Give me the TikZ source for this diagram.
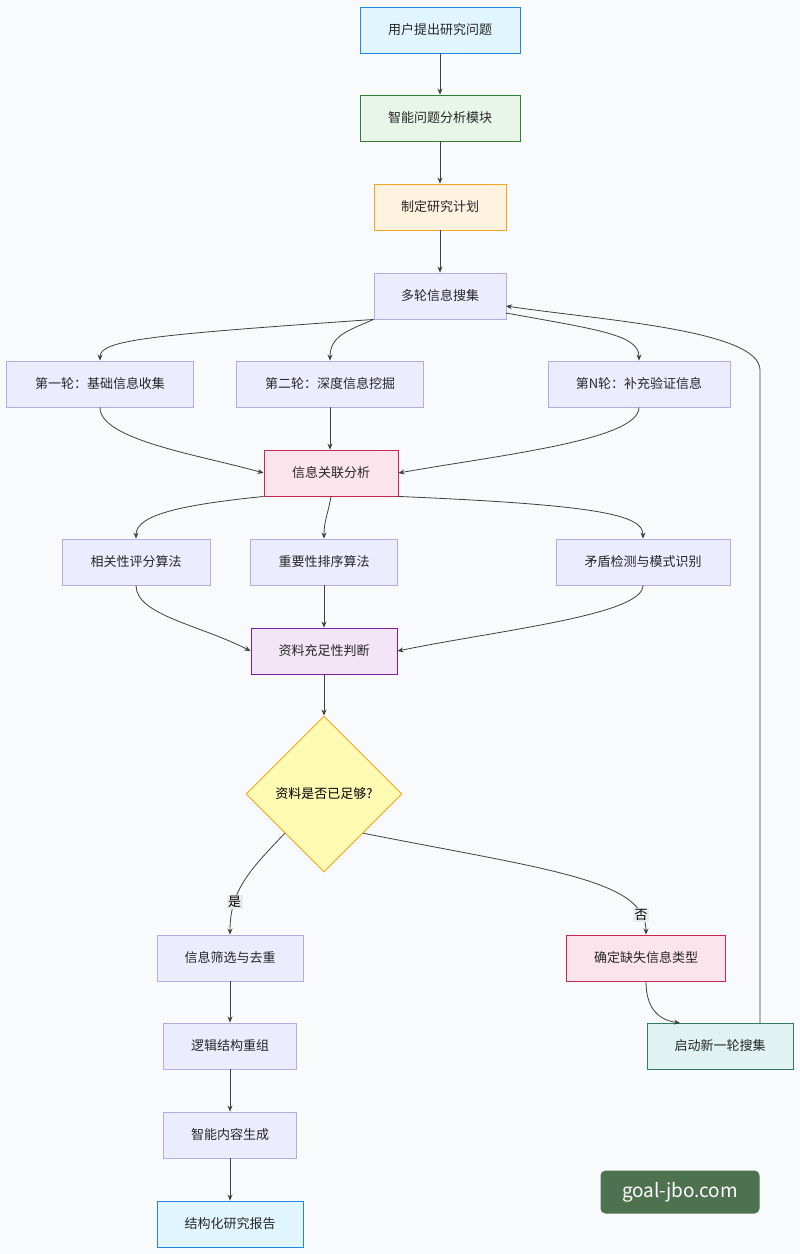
\documentclass[tikz,border=0pt]{standalone}
\usepackage{fontspec}
\setmainfont{Noto Sans CJK SC}
\usetikzlibrary{shapes.geometric,arrows.meta}
\definecolor{bg}{HTML}{F8FAFC}
\definecolor{lav}{HTML}{ECECFF}
\definecolor{lavb}{HTML}{B4ACE0}
\tikzset{
 x=1pt,y=-1pt,
 box/.style={draw=lavb,fill=lav,line width=0.9pt,minimum height=46pt,inner xsep=4pt,font=\fontsize{13}{15}\selectfont,text=black!85},
 blue/.style={box,draw=HTML1E88E5,fill=HTMLE1F5FE},
 green/.style={box,draw=HTML2E7D32,fill=HTMLE8F5E9},
 orange/.style={box,draw=HTMLF59E0B,fill=HTMLFFF3E0},
 red/.style={box,draw=HTMLC2185B,fill=HTMLFCE4EC},
 purp/.style={box,draw=HTML7B1FA2,fill=HTMLF3E5F5},
 teal/.style={box,draw=HTML00695C,fill=HTMLE0F2F1},
 e/.style={draw=black!75,line width=0.8pt,-{Stealth[length=6pt,width=5pt]}},
 lbl/.style={fill=black!8,font=\fontsize{13}{15}\selectfont,inner sep=1.5pt}
}
\definecolor{HTML1E88E5}{HTML}{1E88E5}\definecolor{HTMLE1F5FE}{HTML}{E1F5FE}
\definecolor{HTML2E7D32}{HTML}{2E7D32}\definecolor{HTMLE8F5E9}{HTML}{E8F5E9}
\definecolor{HTMLF59E0B}{HTML}{F5A623}\definecolor{HTMLFFF3E0}{HTML}{FFF3E0}
\definecolor{HTMLC2185B}{HTML}{C62850}\definecolor{HTMLFCE4EC}{HTML}{FCE4EC}
\definecolor{HTML7B1FA2}{HTML}{7B1FA2}\definecolor{HTMLF3E5F5}{HTML}{F3E5F5}
\definecolor{HTML00695C}{HTML}{2E7D5C}\definecolor{HTMLE0F2F1}{HTML}{E0F2F1}
\begin{document}
\begin{tikzpicture}
\fill[bg] (0,0) rectangle (800,1254);
\useasboundingbox (0,0) rectangle (800,1254);
\node[blue,minimum width=160pt] (n1) at (440,30) {用户提出研究问题};
\node[green,minimum width=160pt] (n2) at (440,118) {智能问题分析模块};
\node[orange,minimum width=132pt] (n3) at (440,207) {制定研究计划};
\node[box,minimum width=132pt] (n4) at (440,296) {多轮信息搜集};
\node[box,minimum width=187pt] (n5) at (100,384) {第一轮：基础信息收集};
\node[box,minimum width=187pt] (n6) at (330,384) {第二轮：深度信息挖掘};
\node[box,minimum width=182pt] (n7) at (639,384) {第N轮：补充验证信息};
\node[red,minimum width=134pt] (n8) at (331,473) {信息关联分析};
\node[box,minimum width=148pt] (n9) at (136,562) {相关性评分算法};
\node[box,minimum width=147pt] (n10) at (324,562) {重要性排序算法};
\node[box,minimum width=174pt] (n11) at (643,562) {矛盾检测与模式识别};
\node[purp,minimum width=146pt] (n12) at (324,651) {资料充足性判断};
\node[diamond,draw=HTMLF59E0B,fill=yellow!30,line width=0.9pt,minimum width=156pt,minimum height=156pt,inner sep=0pt,font=\fontsize{13}{15}\selectfont] (n13) at (324,794) {资料是否已足够?};
\node[box,minimum width=146pt] (n14) at (230,958) {信息筛选与去重};
\node[red,minimum width=159pt] (n15) at (646,958) {确定缺失信息类型};
\node[teal,minimum width=146pt] (n16) at (720,1046) {启动新一轮搜集};
\node[box,minimum width=133pt] (n17) at (230,1046) {逻辑结构重组};
\node[box,minimum width=133pt] (n18) at (230,1135) {智能内容生成};
\node[blue,minimum width=146pt] (n19) at (230,1224) {结构化研究报告};
\node[fill=HTML2E7D32!50!gray!90!black,rounded corners=5pt,minimum width=159pt,minimum height=43pt,text=white,font=\fontsize{19}{22}\selectfont] (wm) at (680,1192) {goal-jbo.com};

\draw[e] (n1) -- (n2);
\draw[e] (n2) -- (n3);
\draw[e] (n3) -- (n4);
\draw[e] (n4.south west) .. controls (150,335) and (100,340) .. (n5.north);
\draw[e] (n4.south west) .. controls (350,330) and (330,335) .. (n6.north);
\draw[e] (506,313) .. controls (600,330) and (639,335) .. (n7.north);
\draw[e] (n5.south) .. controls (100,440) and (200,455) .. (n8.west);
\draw[e] (n6.south) -- (n6.south|-n8.north);
\draw[e] (n7.south) .. controls (639,440) and (500,455) .. (n8.east);
\draw[e] (n8.south west) .. controls (180,505) and (136,515) .. (n9.north);
\draw[e] (331,496) .. controls (328,515) and (324,520) .. (n10.north);
\draw[e] (n8.south east) .. controls (600,505) and (643,515) .. (n11.north);
\draw[e] (n9.south) .. controls (136,615) and (200,625) .. (n12.west);
\draw[e] (n10.south) -- (n12.north);
\draw[e] (n11.south) .. controls (643,615) and (500,630) .. (n12.east);
\draw[e] (n12.south) -- (n13.north);
\draw[e] (n13.south west) .. controls (250,870) and (230,890) .. (n14.north) node[lbl,pos=0.72] {是};
\draw[e] (n13.south east) .. controls (550,870) and (646,880) .. (n15.north) node[lbl,pos=0.87] {否};
\draw[e] (n15.south) .. controls (646,1010) and (660,1020) .. (680,1023);
\draw[e] (760,1023) .. controls (760,990) and (760,400) .. (760,370) .. controls (760,330) and (600,320) .. (506,306);
\draw[e] (n14) -- (n17);
\draw[e] (n17) -- (n18);
\draw[e] (n18) -- (n19);
\end{tikzpicture}
\end{document}
